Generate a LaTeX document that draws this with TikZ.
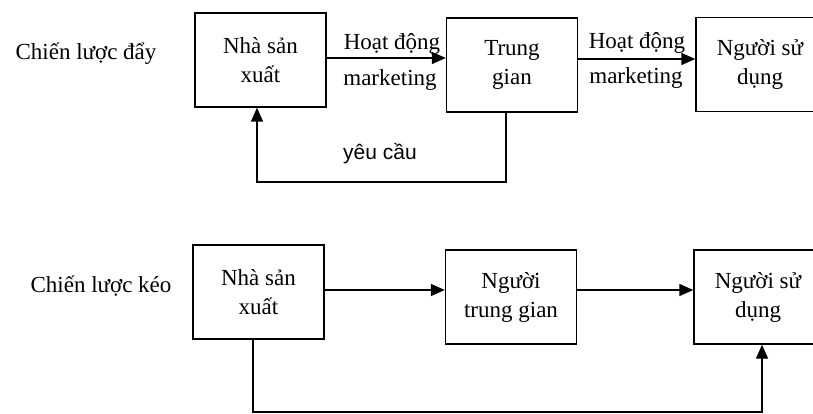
\documentclass[tikz,border=0pt]{standalone}
\usepackage{fontspec}
\setmainfont{Liberation Serif}
\usetikzlibrary{arrows.meta}
\begin{document}
\begin{tikzpicture}[x=1pt,y=-1pt,
  box/.style={draw, line width=1.4pt, minimum width=131pt, minimum height=94pt,
    inner sep=0pt, align=center, font=\fontsize{23}{29}\selectfont},
  lbl/.style={font=\fontsize{23}{28}\selectfont, inner sep=0pt},
  sanslbl/.style={font=\fontspec{Liberation Sans}\fontsize{21}{24}\selectfont, inner sep=0pt},
  arr/.style={line width=1.4pt, -{Triangle[length=14pt,width=12pt]}}]
\useasboundingbox (0,0) rectangle (813,414);
\clip (0,0) rectangle (813,414);
% push strategy
\node[lbl] (la) at (86,54) {Chiến lược đẩy};
\node[box] (a1) at (260.5,60) {Nhà sản\\xuất};
\node[box] (a2) at (512,65) {Trung\\gian};
\node[box, minimum width=128pt] (a3) at (760,64.5) {Người sử\\dụng};
\draw[arr] (a1.east |- 0,58) -- (a2.west |- 0,58);
\draw[arr] (a2.east |- 0,59) -- (a3.west |- 0,59);
\node[lbl] (h1) at (392,44) {Hoạt động};
\node[lbl] (m1) at (390,80) {marketing};
\node[lbl] (h2) at (637,43) {Hoạt động};
\node[lbl] (m2) at (636,78) {marketing};
\draw[arr] (a2.south -| 506,0) |- (257,182) -- (a1.south -| 257,0);
\node[sanslbl] (yc) at (380,154) {yêu cầu};
% pull strategy
\node[lbl] (lb) at (101,286) {Chiến lược kéo};
\node[box] (b1) at (258.5,292) {Nhà sản\\xuất};
\node[box] (b2) at (511,297) {Người\\trung gian};
\node[box, minimum width=128pt] (b3) at (758,297) {Người sử\\dụng};
\draw[arr] (b1.east |- 0,290) -- (b2.west |- 0,290);
\draw[arr] (b2.east |- 0,290) -- (b3.west |- 0,290);
\draw[arr] (b1.south -| 253,0) |- (762,412) -- (b3.south -| 762,0);
\end{tikzpicture}
\end{document}
